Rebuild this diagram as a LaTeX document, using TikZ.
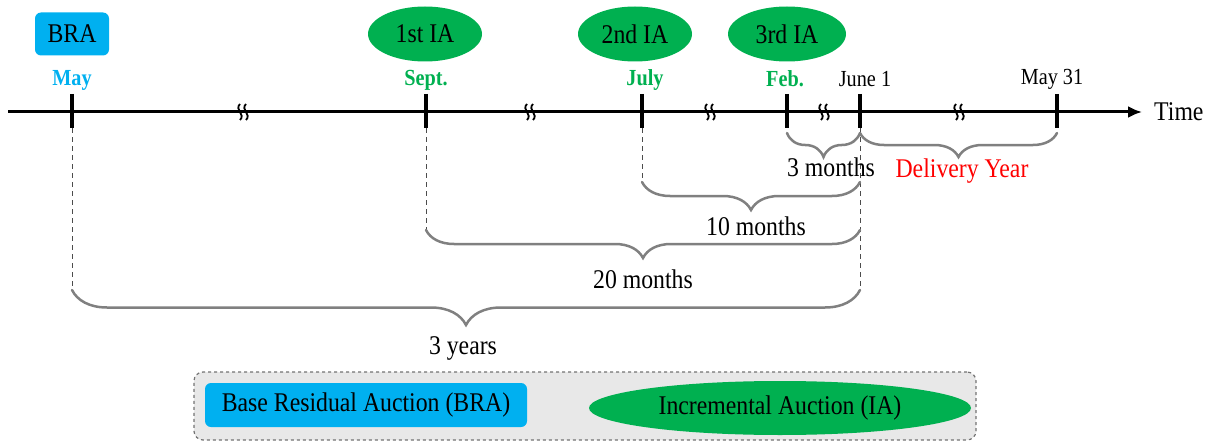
\documentclass[tikz,border=0pt]{standalone}
\usepackage{fontspec}
\setmainfont{Liberation Serif}[FakeStretch=0.88]
\usetikzlibrary{arrows.meta,calc,shapes.geometric,decorations.pathreplacing}
\tikzset{>={Latex[length=14pt,width=12pt]}}
\definecolor{bracyan}{HTML}{00B0F0}
\definecolor{iagreen}{HTML}{00B050}
\definecolor{legendgray}{HTML}{E8E8E8}
\tikzstyle{bra}=[rectangle,rounded corners=6pt,fill=bracyan,inner sep=0pt]
\tikzstyle{ia}=[ellipse,fill=iagreen,inner sep=0pt]
\tikzstyle{tickmark}=[line width=3.5pt]
\tikzstyle{guide}=[dash pattern=on 5pt off 4pt,draw=black!70,line width=1pt]
\tikzstyle{span}=[decorate,draw=black!50,line width=2.5pt,line cap=round]
\def\bigfs{\fontsize{27}{31}\selectfont}
\def\smallfs{\fontsize{23}{27}\selectfont}

\begin{document}
\begin{tikzpicture}[x=1pt,y=-1pt,inner sep=0pt]
	\useasboundingbox (0,0) rectangle (1212,441);
	\def \liney {112};
	
	% time axis
	\coordinate (start) at (8,\liney);
	\coordinate (end) at (1142,\liney);
	\draw[line width=3pt,->] (start) -- (end);
	\node[anchor=west] (time) at (1154,\liney) {\bigfs Time};
	
	% ticks
	\foreach \name/\tx in {may/72,sept/426,july/642,feb/787,june/860,mayend/1057} {
		\coordinate (\name T) at (\tx,94);
		\coordinate (\name B) at (\tx,128);
		\draw[tickmark] (\name T) -- (\name B);
	}
	
	% breaks
	\foreach \bx in {243,530,710,824,959} {
		\foreach \dx in {-3,3} {
			\draw[line width=1.8pt] (\bx+\dx,104) .. controls (\bx+\dx-6,110) and (\bx+\dx+6,114) .. (\bx+\dx,120);
		}
	}
	
	% auctions
	\node[bra, minimum width=74pt, minimum height=43pt] (bra) at (72,34) {\bigfs BRA};
	\node[ia, minimum width=114pt, minimum height=55pt] (ia1) at (425,34) {\bigfs 1st IA};
	\node[ia, minimum width=114pt, minimum height=55pt] (ia2) at (635,34) {\bigfs 2nd IA};
	\node[ia, minimum width=118pt, minimum height=55pt] (ia3) at (787,34) {\bigfs 3rd IA};
	
	% dates
	\node[text=bracyan] (maylab) at (72,80) {\smallfs\bfseries May};
	\node[text=iagreen] (septlab) at (426,80) {\smallfs\bfseries Sept.};
	\node[text=iagreen] (julylab) at (645,80) {\smallfs\bfseries July};
	\node[text=iagreen] (feblab) at (785,79) {\smallfs\bfseries Feb.};
	\node (junelab) at (865,79) {\smallfs June 1};
	\node (mayendlab) at (1052,79) {\smallfs May 31};
	
	% guide lines
	\coordinate (mayE) at (72,290);
	\coordinate (septE) at (426,230);
	\coordinate (julyE) at (642,182);
	\coordinate (juneE) at (860,290);
	\draw[guide] (mayB) -- (mayE);
	\draw[guide] (septB) -- (septE);
	\draw[guide] (julyB) -- (julyE);
	\draw[guide] (juneB) -- (juneE);
	
	% spans
	\draw[span,decoration={brace,mirror,amplitude=24pt}] (787,133) -- (860,133);
	\draw[span,decoration={brace,mirror,amplitude=24pt}] (860,133) -- (1057,133);
	\draw[span,decoration={brace,mirror,amplitude=28pt}] (julyE) -- (860,182);
	\draw[span,decoration={brace,mirror,amplitude=28pt}] (septE) -- (860,230);
	\draw[span,decoration={brace,mirror,amplitude=35pt}] (mayE) -- (juneE);
	
	\node (m3) at (831,167) {\bigfs 3 months};
	\node[text=red] (dy) at (962,171) {\bigfs Delivery Year};
	\node (m10) at (756,226) {\bigfs 10 months};
	\node (m20) at (643,279) {\bigfs 20 months};
	\node (y3) at (463,348) {\bigfs 3 years};
	
	% legend
	\node[draw=black!55,dashed,line width=1.2pt,fill=legendgray,rounded corners=9pt,minimum width=782pt,minimum height=68pt] (legend) at (585,406) {};
	\node[bra, minimum width=322pt, minimum height=44pt] (brakey) at (366,405) {\bigfs Base Residual Auction (BRA)};
	\node[ia, minimum width=382pt, minimum height=54pt] (iakey) at (780,408) {\bigfs Incremental Auction (IA)};
\end{tikzpicture}
\end{document}
